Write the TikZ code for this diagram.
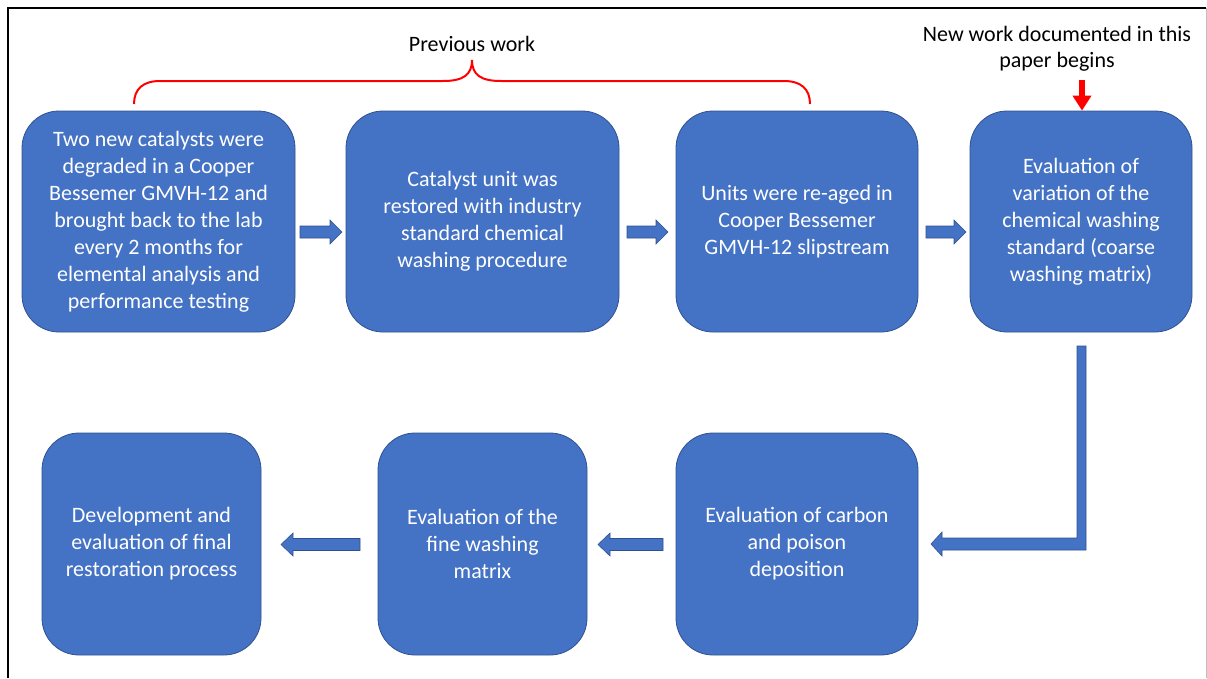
\documentclass[tikz,border=0pt]{standalone}
\usepackage{fontspec}
\setmainfont{Carlito}
\usetikzlibrary{calc,arrows.meta}
\definecolor{boxblue}{HTML}{4472C4}
\definecolor{boxedge}{HTML}{2F528F}
\newcommand{\blockarrowR}[3]{%
  \filldraw[blockarrow] (#1,#3-6) -- (#2-12,#3-6) -- (#2-12,#3-12) -- (#2,#3) -- (#2-12,#3+12) -- (#2-12,#3+6) -- (#1,#3+6) -- cycle;}
\newcommand{\blockarrowL}[3]{%
  \filldraw[blockarrow] (#1,#3-6) -- (#2+12,#3-6) -- (#2+12,#3-11.5) -- (#2,#3) -- (#2+12,#3+11.5) -- (#2+12,#3+6) -- (#1,#3+6) -- cycle;}
\begin{document}
\begin{tikzpicture}[x=1pt,y=-1pt,
  stepbox/.style={draw=boxedge, line width=0.8pt, fill=boxblue, rounded corners=37pt,
    text=white, align=center, font=\fontsize{22}{27}\selectfont, inner sep=0pt,
    minimum height=221pt},
  blockarrow/.style={draw=boxedge, fill=boxblue, line width=0.6pt},
  label/.style={align=center, font=\fontsize{22}{26}\selectfont, text=black, inner sep=0pt},
  brace/.style={draw=red, line width=2pt}]
\useasboundingbox (0,0) rectangle (1207,678);
\draw[black, line width=1.4pt] (8,678) -- (8,8) -- (1206,8);
\draw[black!25, line width=1pt] (1206,8) -- (1206,678);

% top row
\node[stepbox, minimum width=273pt] (b1) at (158.5,221.5) {Two new catalysts were\\degraded in a Cooper\\Bessemer GMVH-12 and\\brought back to the lab\\every 2 months for\\elemental analysis and\\performance testing};
\node[stepbox, minimum width=273pt] (b2) at (482.5,221.5) {Catalyst unit was\\restored with industry\\standard chemical\\washing procedure};
\node[stepbox, minimum width=242pt] (b3) at (797,221.5) {Units were re-aged in\\Cooper Bessemer\\GMVH-12 slipstream};
\node[stepbox, minimum width=222pt] (b4) at (1081,221.5) {Evaluation of\\variation of the\\chemical washing\\standard (coarse\\washing matrix)};

% bottom row
\node[stepbox, minimum width=242pt, minimum height=222pt] (b5) at (797,544) {Evaluation of carbon\\and poison\\deposition};
\node[stepbox, minimum width=209pt, minimum height=222pt] (b6) at (482.5,544) {Evaluation of the\\fine washing\\matrix};
\node[stepbox, minimum width=219pt, minimum height=222pt] (b7) at (151.5,544) {Development and\\evaluation of final\\restoration process};

% block arrows
\blockarrowR{300}{342}{232}
\blockarrowR{627}{668}{232}
\blockarrowR{926}{966}{232}
\blockarrowL{663}{598}{544.5}
\blockarrowL{360}{281}{544.5}
\filldraw[blockarrow] (1077,346) -- (1086,346) -- (1086,550) -- (942,550) -- (942,556) -- (931,544) -- (942,532) -- (942,538) -- (1077,538) -- cycle;

% brace and labels
\draw[brace] (134,104) .. controls (134,89) and (143,81) .. (160,81) -- (443,81)
  .. controls (463,81) and (472,75) .. (472,60)
  .. controls (472,75) and (481,81) .. (501,81) -- (784,81)
  .. controls (801,81) and (810,89) .. (810,104);
\node[label, anchor=base] (prev) at (472,51) {Previous work};
\node[label, anchor=north] (new) at (1057,26) {New work documented in this\\paper begins};
\coordinate (newarrow) at (1082,80);
\draw[red, line width=6pt, -{Triangle[width=18pt,length=15pt]}] (newarrow) -- (b4.north -| newarrow);
\end{tikzpicture}
\end{document}
